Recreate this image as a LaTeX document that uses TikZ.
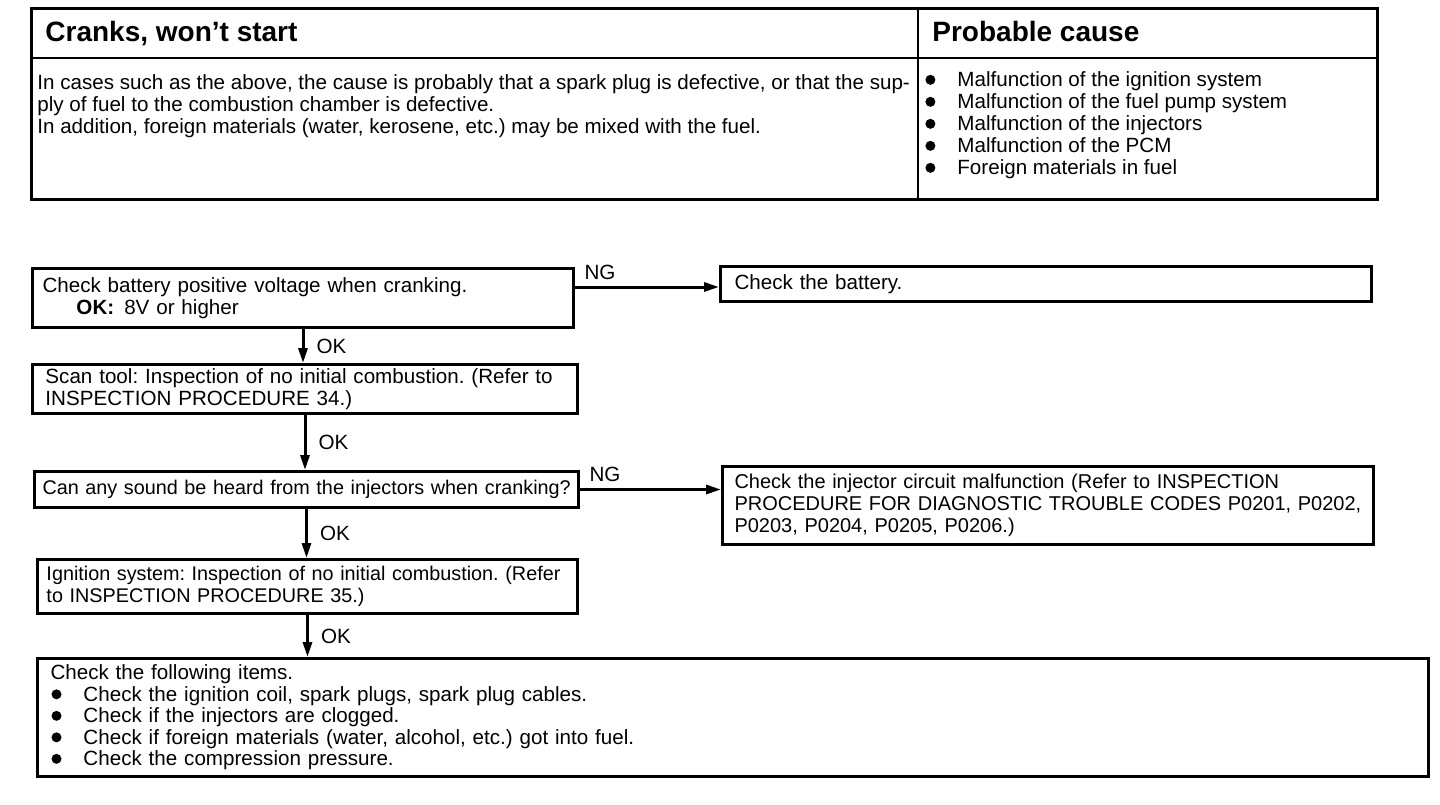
\documentclass[tikz,border=0pt]{standalone}
\usepackage{fontspec}
\setmainfont{Liberation Sans}
\usetikzlibrary{arrows.meta,positioning}
\frenchspacing
\newcommand{\bodyfont}{\fontsize{10.3}{11}\selectfont}
\newcommand{\headfont}{\fontsize{14}{16}\selectfont\bfseries}
\newcommand{\itemdot}{\makebox[16.5pt][l]{\hspace{0.5pt}\tikz[baseline=0pt]\fill (2.4pt,3.5pt) circle[radius=2.5pt];}}
\tikzset{
  box/.style={draw, line width=1.5pt, anchor=north west, align=left, inner ysep=0pt, font=\bodyfont},
  flow/.style={line width=1.5pt, -{Triangle[length=7.5pt,width=4.5pt]}},
  tag/.style={font=\bodyfont, inner sep=0pt, anchor=west, align=left},
}
\begin{document}
\begin{tikzpicture}[x=0.5pt,y=-0.5pt]
  \useasboundingbox (0,0) rectangle (1440,804);
  % summary table
  \draw[line width=1.5pt] (31,8) rectangle (1377,199);
  \draw[line width=1.1pt] (31,58) -- (1377,58);
  \draw[line width=1.1pt] (918,8) -- (918,199);
  \node[tag, font=\headfont] (symptom) at (45,34) {Cranks, won’t start};
  \node[tag, font=\headfont] (causehead) at (932,31) {Probable cause};
  \node[tag, inner xsep=3pt] (symptomtext) at (31,106)
    {In cases such as the above, the cause is probably that a spark plug is defective, or that the sup-\\
     ply of fuel to the combustion chamber is defective.\\
     In addition, foreign materials (water, kerosene, etc.) may be mixed with the fuel.};
  \node[tag, inner xsep=3pt] (causelist) at (918,125.5)
    {\itemdot Malfunction of the ignition system\\
     \itemdot Malfunction of the fuel pump system\\
     \itemdot Malfunction of the injectors\\
     \itemdot Malfunction of the PCM\\
     \itemdot Foreign materials in fuel};

  % flow chart
  \node[box, text width=260.5pt, minimum height=29.5pt, inner xsep=5pt] (battcheck) at (31,267)
    {Check battery positive voltage when cranking.\\
     \hspace*{17pt}\textbf{OK:}\hspace{5pt}8V or higher};
  \node[box, text width=311.5pt, minimum height=17.5pt, inner xsep=7pt] (battery) at (719,265)
    {Check the battery.};
  \node[box, text width=259.5pt, minimum height=24.5pt, inner xsep=6.5pt] (scantool) at (31,363)
    {\mbox{Scan tool: Inspection of no initial combustion. (Refer to}\\
     INSPECTION PROCEDURE 34.)};
  \node[box, text width=264pt, minimum height=18pt, inner xsep=4pt, font=\fontsize{9.9}{11}\selectfont] (injsound) at (33,470)
    {\mbox{Can any sound be heard from the injectors when cranking?}};
  \node[box, text width=313.5pt, minimum height=39pt, inner xsep=6pt, font=\fontsize{10}{11}\selectfont] (injcircuit) at (721,465)
    {\mbox{Check the injector circuit malfunction (Refer to INSPECTION}\\
     \mbox{PROCEDURE FOR DIAGNOSTIC TROUBLE CODES P0201, P0202,}\\
     P0203, P0204, P0205, P0206.)};
  \node[box, text width=261pt, minimum height=27pt, inner xsep=4.5pt, font=\fontsize{9.9}{11}\selectfont] (ignition) at (36,558)
    {\mbox{Ignition system: Inspection of no initial combustion. (Refer}\\
     to INSPECTION PROCEDURE 35.)};
  \node[box, text width=682.5pt, minimum height=59pt, inner xsep=6.5pt, font=\fontsize{10.3}{10.75}\selectfont] (checkitems) at (36,657)
    {Check the following items.\\
     \itemdot Check the ignition coil, spark plugs, spark plug cables.\\
     \itemdot Check if the injectors are clogged.\\
     \itemdot Check if foreign materials (water, alcohol, etc.) got into fuel.\\
     \itemdot Check the compression pressure.};

  % connectors
  \coordinate (ngone) at ([yshift=-10pt]battcheck.north east);
  \draw[flow] (ngone) -- (ngone -| battery.west)
    node[tag, at start, anchor=south west, xshift=4pt, yshift=3pt] {NG};
  \draw[flow] (battcheck.south) -- (battcheck.south |- scantool.north)
    node[tag, midway, xshift=6pt] {OK};
  \draw[flow] (scantool.south) -- (scantool.south |- injsound.north)
    node[tag, midway, xshift=6pt] {OK};
  \draw[flow] (injsound.east) -- (injsound.east -| injcircuit.west)
    node[tag, at start, anchor=south west, xshift=4pt, yshift=3pt] {NG};
  \draw[flow] (injsound.south) -- (injsound.south |- ignition.north)
    node[tag, midway, xshift=6pt] {OK};
  \draw[flow] (ignition.south) -- (ignition.south |- checkitems.north)
    node[tag, midway, xshift=6pt] {OK};
\end{tikzpicture}
\end{document}
